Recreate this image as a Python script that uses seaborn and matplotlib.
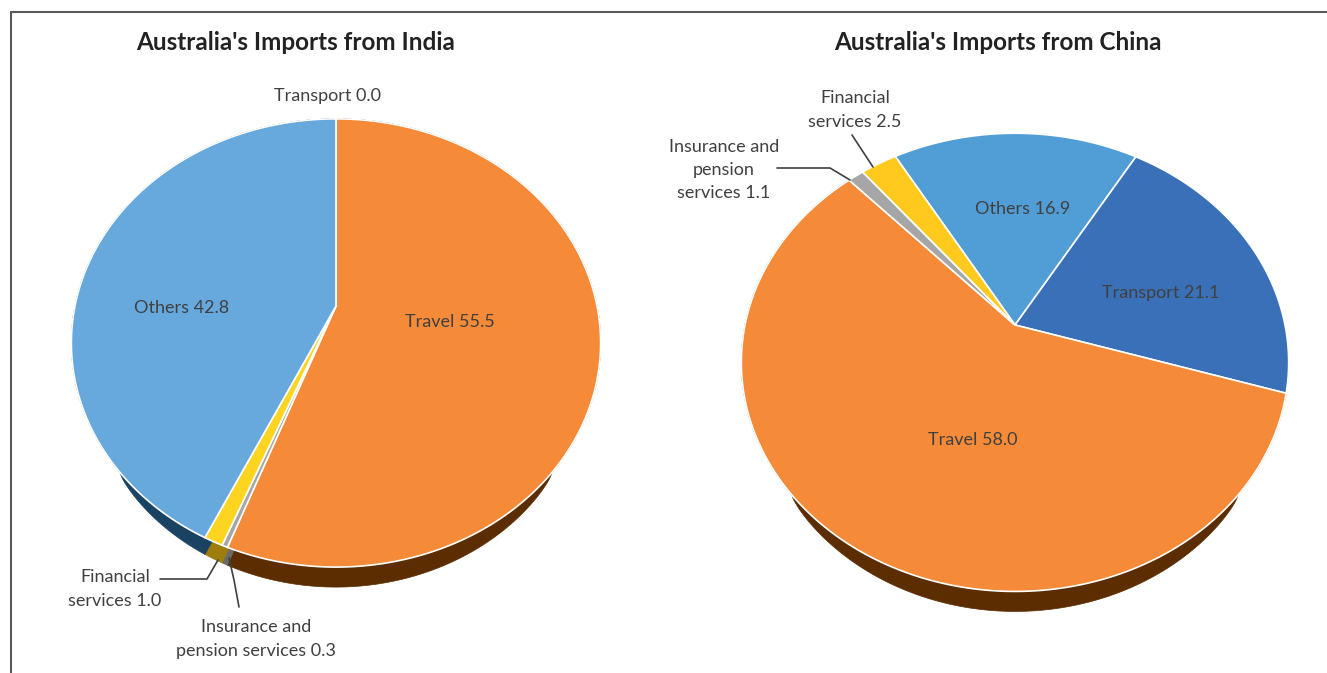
import numpy as np
import seaborn as sns
import matplotlib.pyplot as plt
from matplotlib.patches import Polygon

sns.set_theme(style="white")
plt.rcParams['font.family'] = ['Lato', 'DejaVu Sans']

# data
india_cats = ["Transport", "Travel", "Insurance and\npension services", "Financial\nservices", "Others"]
india_vals = [0.0, 55.5, 0.3, 1.0, 42.8]
china_cats = ["Others", "Transport", "Travel", "Insurance and\npension\nservices", "Financial\nservices"]
china_vals = [16.9, 21.1, 58.0, 1.1, 2.5]

india_colors = ["#3A70B8", "#F58A38", "#A6A6A6", "#FDD41F", "#67A9DD"]
india_sides = ["#1E3B63", "#5C2D00", "#6A6A6A", "#9E7D0C", "#1A4262"]
china_colors = ["#519DD6", "#3A70B8", "#F58A38", "#A6A6A6", "#FFC91D"]
china_sides = ["#1A4262", "#1E3B63", "#5C2D00", "#6A6A6A", "#9E7D0C"]

TXT = "#404040"

fig = plt.figure(figsize=(13.27, 6.73), dpi=100)
ax = fig.add_axes([0, 0, 1, 1])
ax.set_xlim(0, 1327)
ax.set_ylim(673, 0)
ax.axis("off")


def project(x, y, cx, cy, a, b, k):
    w = 1 + k * y
    return cx + b * x / w, cy - a * y / w


def draw_pie(vals, colors, sides, startangle, cx, cy, a, b, k, depth, y0=-0.68):
    vals = np.asarray(vals, dtype=float)
    frac = np.concatenate([[0], np.cumsum(vals / vals.sum())])
    tops = []
    for i, v in enumerate(vals):
        if v <= 0:
            continue
        t1 = np.radians(startangle - frac[i] * 360)
        t2 = np.radians(startangle - frac[i + 1] * 360)
        n = max(int(abs(t2 - t1) / 0.005), 2)
        th = np.linspace(t1, t2, n)
        uy = np.sin(th)
        X, Y = project(np.cos(th), uy, cx, cy, a, b, k)
        arc = np.column_stack([X, Y])
        # tapered side: only the near part of the rim shows
        off = depth * np.clip((y0 - uy) / (1 + y0), 0, 1) ** 0.5
        low = arc + np.column_stack([np.zeros(n), off])
        if off.max() > 0:
            side = np.vstack([arc, low[::-1]])
            ax.add_patch(Polygon(side, closed=True, fc=sides[i], ec=sides[i], lw=0.5, zorder=1))
            for j in (0, -1):
                if off[j] > 0:
                    xx, yy = arc[j]
                    face = [(cx, cy), (xx, yy), (xx, yy + off[j]), (cx, cy + off[j])]
                    ax.add_patch(Polygon(face, closed=True, fc=sides[i], ec=sides[i], lw=0.5, zorder=1))
        top = np.vstack([[cx, cy], arc])
        tops.append(Polygon(top, closed=True, fc=colors[i], ec="white", lw=1.2, zorder=3))
    for p in tops:
        ax.add_patch(p)


draw_pie(india_vals, india_colors, india_sides, 90, 336, 306, 218, 261, 0.165, 20)
draw_pie(china_vals, china_colors, china_sides, 120.4, 1015, 325, 223, 270, 0.163, 20)

# frame
ax.plot([11, 1327], [12, 12], color="#595959", lw=1.5, zorder=5)
ax.plot([11, 11], [12, 673], color="#595959", lw=1.5, zorder=5)

# titles
ax.text(296, 43, "Australia's Imports from India", ha="center", va="center",
        fontsize=17.5, fontweight="bold", color="#222222")
ax.text(998, 43, "Australia's Imports from China", ha="center", va="center",
        fontsize=17.5, fontweight="bold", color="#222222")

fs = 13
lbl = dict(ha="center", va="center", fontsize=fs, color=TXT, zorder=6, linespacing=1.55)

# India labels
ax.text(328, 96, f"{india_cats[0]} {india_vals[0]:.1f}", **lbl)
ax.text(450, 322, f"{india_cats[1]} {india_vals[1]:.1f}", **lbl)
ax.text(182, 308, f"{india_cats[4]} {india_vals[4]:.1f}", **lbl)
ax.text(115, 589, f"{india_cats[3]} {india_vals[3]:.1f}", **lbl)
ax.text(256, 639, f"{india_cats[2]} {india_vals[2]:.1f}", **lbl)
ax.plot([160, 207, 218], [579, 579, 560], color=TXT, lw=1.2, zorder=6)
ax.plot([239, 234, 229], [607, 580, 558], color=TXT, lw=1.2, zorder=6)

# China labels
ax.text(1023, 209, f"{china_cats[0]} {china_vals[0]:.1f}", **lbl)
ax.text(1161, 293, f"{china_cats[1]} {china_vals[1]:.1f}", **lbl)
ax.text(973, 440, f"{china_cats[2]} {china_vals[2]:.1f}", **lbl)
ax.text(855, 110, f"{china_cats[4]} {china_vals[4]:.1f}", **lbl)
ax.text(724, 170, f"{china_cats[3]} {china_vals[3]:.1f}", **lbl)
ax.plot([777, 830, 850], [168, 168, 180], color=TXT, lw=1.2, zorder=6)
ax.plot([852, 873], [135, 167], color=TXT, lw=1.2, zorder=6)

fig.savefig("out.png", dpi=100)
